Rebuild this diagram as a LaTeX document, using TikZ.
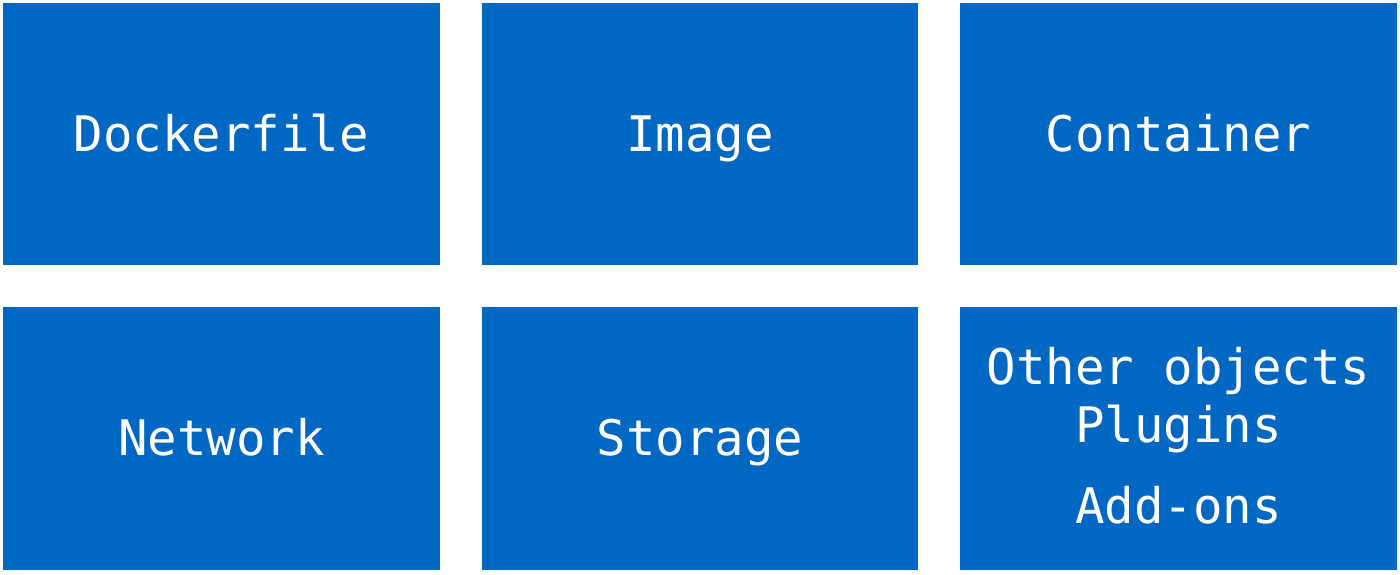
\documentclass[tikz,border=0pt]{standalone}
\usepackage{fontspec}
\setmonofont{DejaVu Sans Mono}
\definecolor{boxblue}{RGB}{0,103,194}
\tikzset{
  tile/.style={fill=boxblue, draw=none, minimum width=437pt, minimum height=262pt, inner sep=0pt, outer sep=0pt},
  lbl/.style={text=white, font=\ttfamily\fontsize{49}{58}\selectfont, anchor=base, inner sep=0pt}
}
\begin{document}
\begin{tikzpicture}[x=1pt,y=-1pt]
\useasboundingbox (0,0) rectangle (1400,574);
\fill[white] (0,0) rectangle (1400,574);
\node[tile] (b1) at (221.5,134) {};
\node[tile, minimum width=436pt] (b2) at (700,134) {};
\node[tile] (b3) at (1178.5,134) {};
\node[tile, minimum height=263pt] (b4) at (221.5,438.5) {};
\node[tile, minimum width=436pt, minimum height=263pt] (b5) at (700,438.5) {};
\node[tile, minimum height=263pt] (b6) at (1178.5,438.5) {};
\node[lbl] (t1) at (221.5,151) {Dockerfile};
\node[lbl] (t2) at (700,151) {Image};
\node[lbl] (t3) at (1178.5,151) {Container};
\node[lbl] (t4) at (221.5,455) {Network};
\node[lbl] (t5) at (700,455) {Storage};
\node[lbl] (t6a) at (1178.5,384) {Other objects};
\node[lbl] (t6b) at (1178.5,442) {Plugins};
\node[lbl] (t6c) at (1178.5,523) {Add-ons};
\end{tikzpicture}
\end{document}
